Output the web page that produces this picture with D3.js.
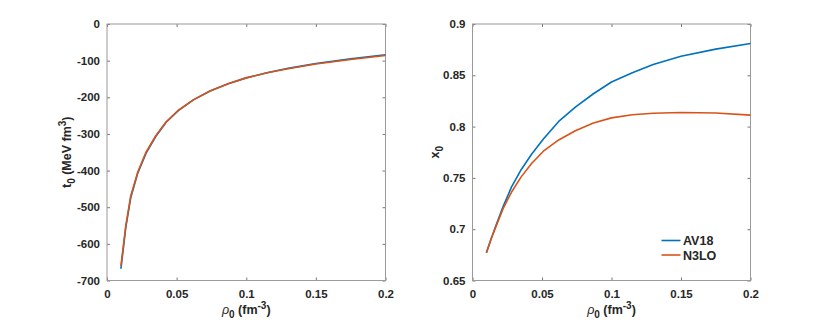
<!DOCTYPE html>
<html>
<head>
<meta charset="utf-8">
<script src="https://cdn.jsdelivr.net/npm/d3@7"></script>
<style>
  body { margin: 0; background: #fff; }
  svg { font-family: "Liberation Sans", Arial, sans-serif; }
  .tick text { font-size: 11.5px; font-weight: bold; fill: #262626; }
  .lbl { font-size: 12.5px; font-weight: bold; fill: #262626; }
</style>
</head>
<body>
<svg width="830" height="324"></svg>
<script>
// density grid (fm^-3)
const rho = [0.01, 0.0135, 0.017, 0.022, 0.028, 0.035, 0.0425, 0.051, 0.062,
             0.074, 0.087, 0.1, 0.115, 0.13, 0.15, 0.175, 0.2];

// t0 (MeV fm^3)
const t0AV18 = [-668, -555, -475, -408, -353, -307, -268, -237, -207,
                -183, -163, -147, -133, -121, -108, -95, -84];
const t0N3LO = [-660, -550, -470, -405, -350, -305, -267, -236, -207,
                -183, -163, -147, -133, -122, -109, -97, -86];

// x0
const x0AV18 = [0.677, 0.691, 0.704, 0.722, 0.741, 0.758, 0.773, 0.788, 0.805,
                0.819, 0.832, 0.8435, 0.8525, 0.8605, 0.8685, 0.8755, 0.881];
const x0N3LO = [0.677, 0.691, 0.703, 0.720, 0.736, 0.751, 0.764, 0.776, 0.787,
                0.796, 0.8035, 0.8085, 0.8115, 0.813, 0.8138, 0.8132, 0.8112];

const seriesNames = ["AV18", "N3LO"];
const colors = ["#0072BD", "#D95319"];

const xTicks = [0, 0.05, 0.1, 0.15, 0.2];
const tTicks = [0, -100, -200, -300, -400, -500, -600, -700];
const xoTicks = [0.65, 0.7, 0.75, 0.8, 0.85, 0.9];

const svg = d3.select("svg");
const plotTop = 24, plotBottom = 280.5;

function panel(left, right, yDomain, yTicks, series, yLabel, showLegend) {
  const x = d3.scaleLinear().domain([0, 0.2]).range([left, right]);
  const y = d3.scaleLinear().domain(yDomain).range([plotBottom, plotTop]);
  const g = svg.append("g");
  const fmt = d => String(d);

  // inward ticks on all four sides
  g.append("g").attr("transform", `translate(0,${plotBottom})`)
    .call(d3.axisBottom(x).tickValues(xTicks).tickFormat(fmt).tickSizeInner(-3).tickSizeOuter(0).tickPadding(9));
  g.append("g").attr("transform", `translate(0,${plotTop})`)
    .call(d3.axisTop(x).tickValues(xTicks).tickFormat("").tickSizeInner(-3).tickSizeOuter(0));
  g.append("g").attr("transform", `translate(${left},0)`)
    .call(d3.axisLeft(y).tickValues(yTicks).tickFormat(fmt).tickSizeInner(-3).tickSizeOuter(0).tickPadding(7));
  g.append("g").attr("transform", `translate(${right},0)`)
    .call(d3.axisRight(y).tickValues(yTicks).tickFormat("").tickSizeInner(-3).tickSizeOuter(0));
  g.selectAll(".domain").remove();
  g.selectAll(".tick line").attr("stroke", "#777");

  g.append("rect").attr("x", left).attr("y", plotTop)
    .attr("width", right - left).attr("height", plotBottom - plotTop)
    .attr("fill", "none").attr("stroke", "#9a9a9a").attr("stroke-width", 1);

  const line = d3.line().x(d => x(d[0])).y(d => y(d[1]));
  series.forEach((vals, i) => {
    g.append("path").datum(rho.map((r, k) => [r, vals[k]]))
      .attr("d", line).attr("fill", "none")
      .attr("stroke", colors[i]).attr("stroke-width", 1.6)
      .attr("stroke-linejoin", "round");
  });

  // x label
  const xl = g.append("text").attr("class", "lbl")
    .attr("x", (left + right) / 2).attr("y", 314).attr("text-anchor", "middle");
  xl.append("tspan").attr("font-style", "italic").attr("font-weight", "normal").text("ρ");
  xl.append("tspan").attr("dy", 4).attr("font-size", "10px").text("0");
  xl.append("tspan").attr("dy", -4).text(" (fm");
  xl.append("tspan").attr("dy", -5).attr("font-size", "10px").text("-3");
  xl.append("tspan").attr("dy", 5).text(")");

  // y label
  const yl = g.append("text").attr("class", "lbl")
    .attr("transform", `translate(${yLabel.x},${(plotTop + plotBottom) / 2}) rotate(-90)`)
    .attr("text-anchor", "middle");
  yl.append("tspan").text(yLabel.main);
  yl.append("tspan").attr("dy", 4).attr("font-size", "10px").text("0");
  if (yLabel.unit) {
    yl.append("tspan").attr("dy", -4).text(" (MeV fm");
    yl.append("tspan").attr("dy", -5).attr("font-size", "10px").text("3");
    yl.append("tspan").attr("dy", 5).text(")");
  }

  if (showLegend) {
    const lg = g.append("g");
    seriesNames.forEach((name, i) => {
      const yy = 240.5 + i * 14.5;
      lg.append("line").attr("x1", 661.5).attr("x2", 680.5).attr("y1", yy).attr("y2", yy)
        .attr("stroke", colors[i]).attr("stroke-width", 1.6);
      lg.append("text").attr("class", "lbl").attr("x", 683).attr("y", yy + 4.5).text(name);
    });
  }
}

panel(107, 385.5, [-700, 0], tTicks, [t0AV18, t0N3LO], {x: 71, main: "t", unit: true}, false);
panel(472.5, 750.5, [0.65, 0.9], xoTicks, [x0AV18, x0N3LO], {x: 439, main: "x", unit: false}, true);
</script>
</body>
</html>
